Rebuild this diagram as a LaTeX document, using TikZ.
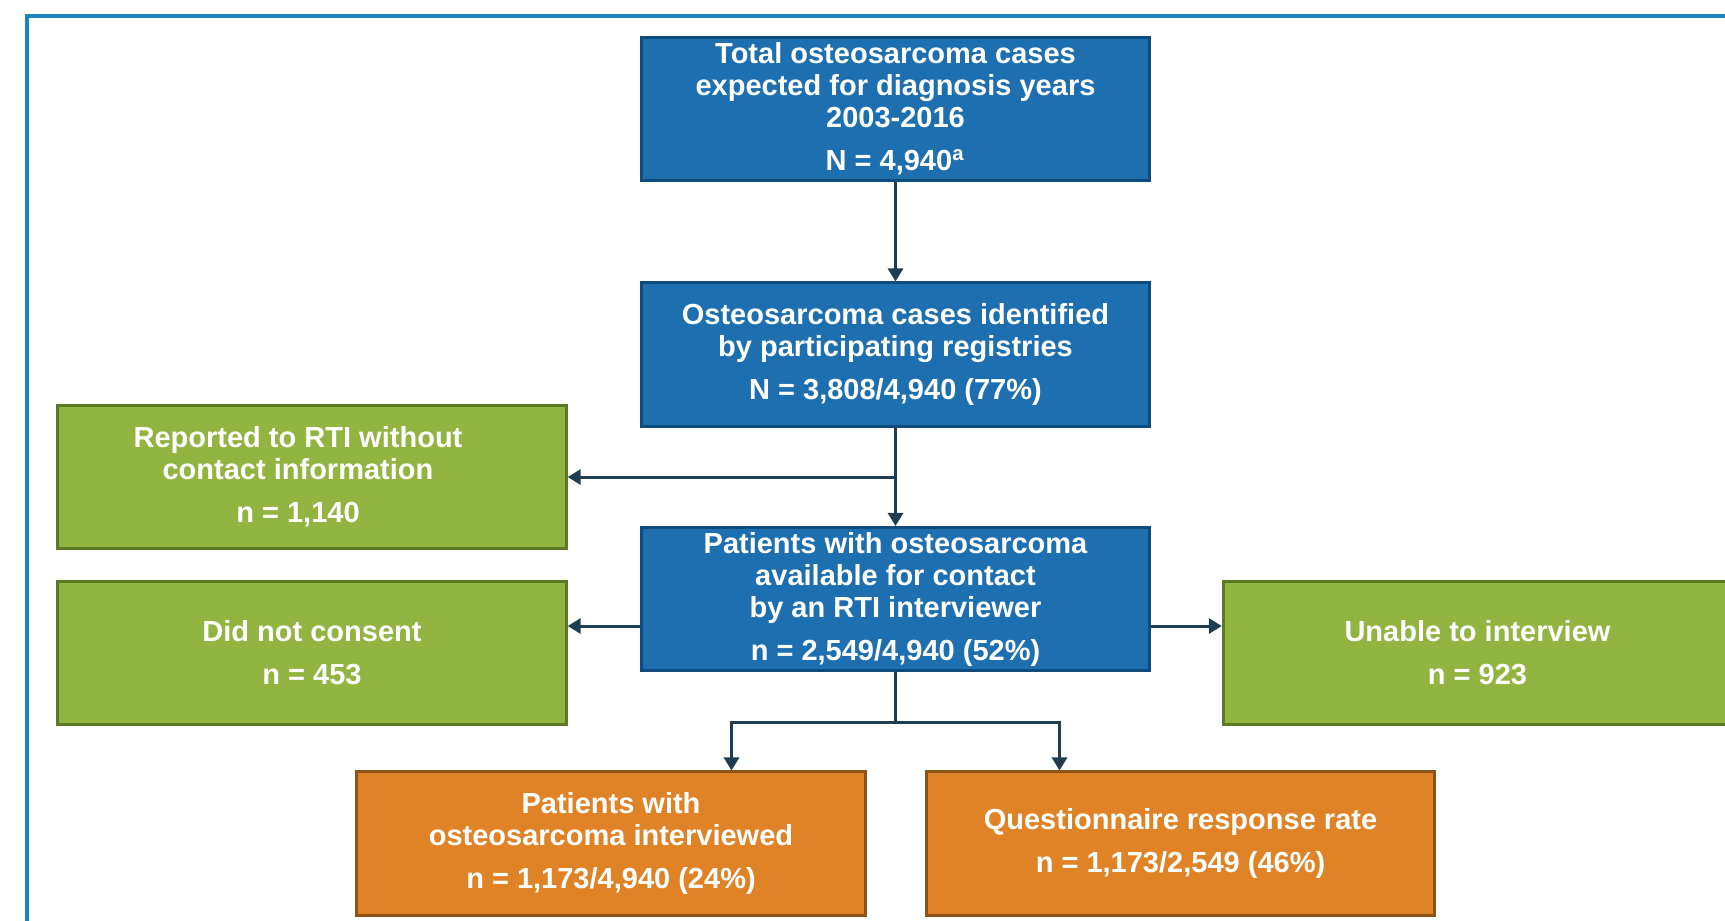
\documentclass[tikz,border=0pt]{standalone}
\usepackage{fontspec}
\setmainfont{Liberation Sans}
\usetikzlibrary{arrows.meta}

\definecolor{boxblue}{HTML}{1D6FAF}
\definecolor{edgeblue}{HTML}{0E4C7E}
\definecolor{boxgreen}{HTML}{92B440}
\definecolor{edgegreen}{HTML}{5C7A26}
\definecolor{boxorange}{HTML}{E08327}
\definecolor{edgeorange}{HTML}{8C5419}
\definecolor{arrowgray}{HTML}{1F3E50}
\definecolor{framecol}{HTML}{1C85BE}

\begin{document}
\begin{tikzpicture}[x=0.01cm, y=-0.01cm,
	box/.style={minimum width=5.08cm, minimum height=1.43cm, inner sep=0pt, line width=0.03cm, align=center, text=white, font=\fontsize{8.25}{9.1}\selectfont\bfseries},
	bluebox/.style={box, fill=boxblue, draw=edgeblue},
	greenbox/.style={box, fill=boxgreen, draw=edgegreen},
	orangebox/.style={box, fill=boxorange, draw=edgeorange},
	arr/.style={draw=arrowgray, line width=0.03cm, -{Triangle[length=0.13cm, width=0.15cm]}},
	link/.style={draw=arrowgray, line width=0.03cm}]
					\path[use as bounding box, clip] (0,0) rectangle (1725,920);
					\draw[framecol, line width=0.035cm] (27,16) rectangle (1800,1000);

					\node[bluebox] (total) at (895.5,109) {Total osteosarcoma cases\\expected for diagnosis years\\2003-2016\\[0.11cm]N = 4,940\textsuperscript{a}};
					\node[bluebox] (ident) at (895.5,354.5) {Osteosarcoma cases identified\\by participating registries\\[0.11cm]N = 3,808/4,940 (77\%)};
					\node[bluebox] (avail) at (895.5,599) {Patients with osteosarcoma\\available for contact\\by an RTI interviewer\\[0.11cm]n = 2,549/4,940 (52\%)};

					\node[greenbox] (report) at (312,477) {Reported to RTI without\hspace*{0.28cm}\mbox{}\\contact information\hspace*{0.28cm}\mbox{}\\[0.11cm]n = 1,140\hspace*{0.28cm}\mbox{}};
					\node[greenbox] (nocons) at (312,653) {Did not consent\\[0.11cm]n = 453};
					\node[greenbox] (unable) at (1477.5,653) {Unable to interview\\[0.11cm]n = 923};

					\node[orangebox] (intv) at (611,843.5) {Patients with\\osteosarcoma interviewed\\[0.11cm]n = 1,173/4,940 (24\%)};
					\node[orangebox] (quest) at (1180.5,843.5) {Questionnaire response rate\\[0.11cm]n = 1,173/2,549 (46\%)};

					\coordinate (side) at (0,626);
					\coordinate (split) at (895.5,722);

					\draw[arr] (total) -- (ident);
					\draw[arr] (ident) -- (avail);
					\draw[arr] (ident.south |- report.east) -- (report.east);
					\draw[arr] (avail.west |- side) -- (nocons.east |- side);
					\draw[arr] (avail.east |- side) -- (unable.west |- side);

					\draw[link] (avail) -- (split);
					\draw[arr] (split) -- ++(-164,0) coordinate (bl) -- (bl |- intv.north);
					\draw[arr] (split) -- ++(164,0) coordinate (br) -- (br |- quest.north);
				\end{tikzpicture}
\end{document}
